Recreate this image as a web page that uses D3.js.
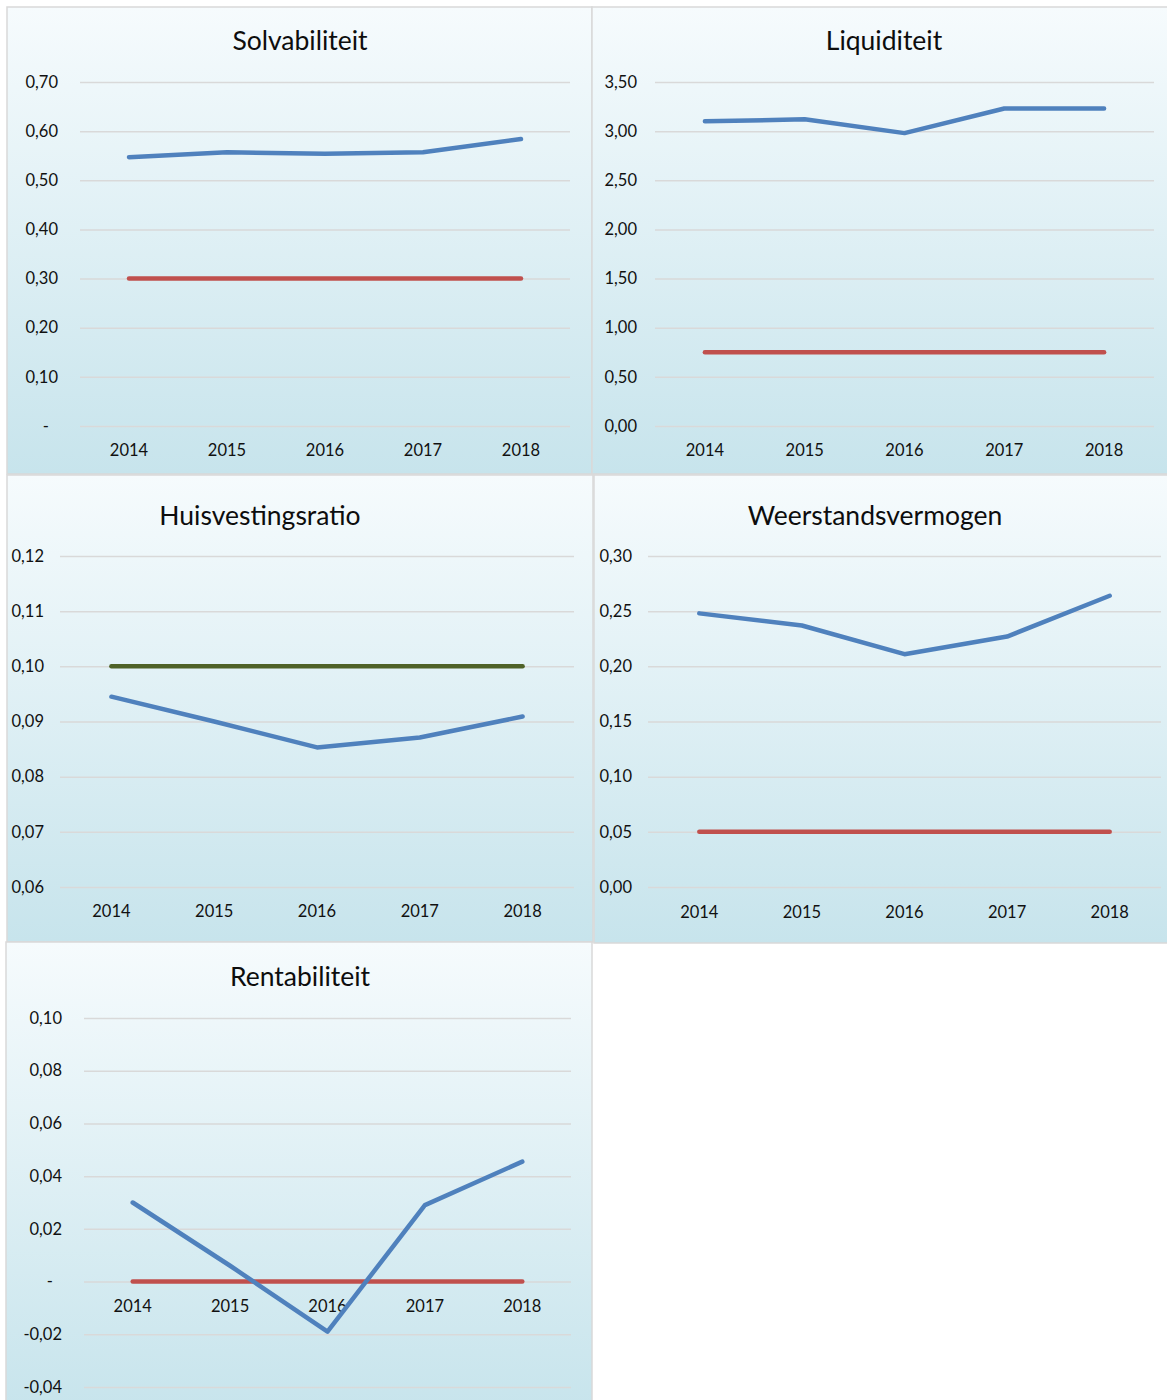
<!DOCTYPE html>
<html><head><meta charset="utf-8">
<script src="https://cdn.jsdelivr.net/npm/d3@7"></script>
<style>
html,body{margin:0;padding:0;background:#fff;}
svg{display:block;font-family:Lato,"Open Sans",sans-serif;}
</style></head>
<body>
<svg id="c" width="1167" height="1400"></svg>
<script>
// ---- data ----
const years = ["2014", "2015", "2016", "2017", "2018"];

const solvTitle = "Solvabiliteit";
const solvValues = [0.547, 0.557, 0.554, 0.557, 0.584];
const solvNorm = [0.30, 0.30, 0.30, 0.30, 0.30];
const solvTicks = [0, 0.1, 0.2, 0.3, 0.4, 0.5, 0.6, 0.7];
const solvTickLabels = ["-", "0,10", "0,20", "0,30", "0,40", "0,50", "0,60", "0,70"];

const liqTitle = "Liquiditeit";
const liqValues = [3.10, 3.12, 2.98, 3.23, 3.23];
const liqNorm = [0.75, 0.75, 0.75, 0.75, 0.75];
const liqTicks = [0, 0.5, 1.0, 1.5, 2.0, 2.5, 3.0, 3.5];
const liqTickLabels = ["0,00", "0,50", "1,00", "1,50", "2,00", "2,50", "3,00", "3,50"];

const huisTitle = "Huisvestingsratio";
const huisValues = [0.0945, 0.0900, 0.0853, 0.0871, 0.0909];
const huisNorm = [0.10, 0.10, 0.10, 0.10, 0.10];
const huisTicks = [0.06, 0.07, 0.08, 0.09, 0.10, 0.11, 0.12];
const huisTickLabels = ["0,06", "0,07", "0,08", "0,09", "0,10", "0,11", "0,12"];

const weerTitle = "Weerstandsvermogen";
const weerValues = [0.248, 0.237, 0.211, 0.227, 0.264];
const weerNorm = [0.05, 0.05, 0.05, 0.05, 0.05];
const weerTicks = [0, 0.05, 0.10, 0.15, 0.20, 0.25, 0.30];
const weerTickLabels = ["0,00", "0,05", "0,10", "0,15", "0,20", "0,25", "0,30"];

const rentTitle = "Rentabiliteit";
const rentValues = [0.030, 0.006, -0.019, 0.029, 0.0455];
const rentNorm = [0, 0, 0, 0, 0];
const rentTicks = [-0.04, -0.02, 0, 0.02, 0.04, 0.06, 0.08, 0.10];
const rentTickLabels = ["-0,04", "-0,02", "-", "0,02", "0,04", "0,06", "0,08", "0,10"];

// ---- layout ----
const panels = [
  {title: solvTitle, values: solvValues, norm: solvNorm, normColor: "#c0504d", ticks: solvTicks, labels: solvTickLabels,
   box: [7, 7, 585, 467], plot: [80, 570, 82, 426], labelRight: 58, titleX: 300, titleY: 50, catY: 456},
  {title: liqTitle, values: liqValues, norm: liqNorm, normColor: "#c0504d", ticks: liqTicks, labels: liqTickLabels,
   box: [592, 7, 580, 467], plot: [655, 1154, 82, 426], labelRight: 637, titleX: 884, titleY: 50, catY: 456},
  {title: huisTitle, values: huisValues, norm: huisNorm, normColor: "#4f6228", ticks: huisTicks, labels: huisTickLabels,
   box: [7, 475, 586, 467], plot: [60, 574, 556, 887], labelRight: 44, titleX: 260, titleY: 525, catY: 917},
  {title: weerTitle, values: weerValues, norm: weerNorm, normColor: "#c0504d", ticks: weerTicks, labels: weerTickLabels,
   box: [594, 475, 578, 468], plot: [648, 1161, 556, 887], labelRight: 632, titleX: 875, titleY: 525, catY: 918},
  {title: rentTitle, values: rentValues, norm: rentNorm, normColor: "#c0504d", ticks: rentTicks, labels: rentTickLabels,
   box: [6, 942, 586, 470], plot: [84, 571, 1018, 1387], labelRight: 62, titleX: 300, titleY: 986, catY: 1312}
];

const svg = d3.select("#c");
const defs = svg.append("defs");
const grad = defs.append("linearGradient").attr("id", "bg").attr("x1", 0).attr("y1", 0).attr("x2", 0).attr("y2", 1);
grad.append("stop").attr("offset", "0%").attr("stop-color", "#f6fbfd");
grad.append("stop").attr("offset", "100%").attr("stop-color", "#c7e4ec");

panels.forEach(p => {
  const g = svg.append("g");
  const [bx, by, bw, bh] = p.box;
  g.append("rect").attr("x", bx).attr("y", by).attr("width", bw).attr("height", bh)
    .attr("fill", "url(#bg)").attr("stroke", "#d9d9d9").attr("stroke-width", 1.5);

  const [l, r, t, b] = p.plot;
  const x = d3.scaleBand().domain(years).range([l, r]);
  const y = d3.scaleLinear().domain([d3.min(p.ticks), d3.max(p.ticks)]).range([b, t]);

  // gridlines via axis
  const gridAxis = d3.axisLeft(y).tickValues(p.ticks).tickSize(-(r - l)).tickFormat("");
  const gg = g.append("g").attr("transform", `translate(${l},0)`).call(gridAxis);
  gg.select(".domain").remove();
  gg.selectAll(".tick line").attr("stroke", "#d9d9d9").attr("stroke-width", 1.5);

  // y labels
  const labelFor = v => p.labels[p.ticks.indexOf(v)];
  const ya = d3.axisLeft(y).tickValues(p.ticks).tickSize(0).tickPadding(0).tickFormat(labelFor);
  const yg = g.append("g").attr("transform", `translate(${p.labelRight},0)`).call(ya);
  yg.select(".domain").remove();
  yg.selectAll(".tick text").attr("font-family", "Lato, 'Open Sans', sans-serif").attr("font-size", 16.5)
    .attr("fill", "#111").attr("dx", d => labelFor(d) === "-" ? -9 : 0);

  // x labels
  const xa = d3.axisBottom(x).tickSize(0).tickPadding(0);
  const xg = g.append("g").attr("transform", `translate(0,${p.catY - 12})`).call(xa);
  xg.select(".domain").remove();
  xg.selectAll(".tick text").attr("font-family", "Lato, 'Open Sans', sans-serif").attr("font-size", 16.5)
    .attr("fill", "#111").attr("dy", "0.71em");

  const line = d3.line().x((d, i) => x(years[i]) + x.bandwidth() / 2).y(d => y(d));
  g.append("path").datum(p.norm).attr("d", line).attr("fill", "none")
    .attr("stroke", p.normColor).attr("stroke-width", 4.5).attr("stroke-linecap", "round").attr("stroke-linejoin", "round");
  g.append("path").datum(p.values).attr("d", line).attr("fill", "none")
    .attr("stroke", "#4f81bd").attr("stroke-width", 4.5).attr("stroke-linecap", "round").attr("stroke-linejoin", "round");

  g.append("text").attr("x", p.titleX).attr("y", p.titleY).attr("text-anchor", "middle")
    .attr("font-size", 26.5).attr("fill", "#0d0d0d").text(p.title);
});
</script>
</body></html>
